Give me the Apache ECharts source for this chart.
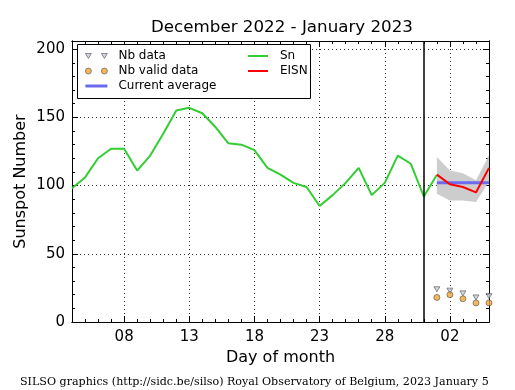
<!DOCTYPE html>
<html><head><meta charset="utf-8">
<script src="https://cdn.jsdelivr.net/npm/echarts@6/dist/echarts.min.js"></script>
<style>html,body{margin:0;padding:0;background:#fff}#c{width:515px;height:390px}</style>
</head><body><div id="c"></div>
<script>
// ---- data ----
const snDays   = [4,5,6,7,8,9,10,11,12,13,14,15,16,17,18,19,20,21,22,23,24,25,26,27,28,29,30,31,32];
const snValues = [98,106,120,127,127,111,122,138,155,157,153,143,131,130,126,113,108,102,99,85,93,102,113,93,102,122,116,92,108];
const eisnDays   = [32,33,34,35,36];
const eisnValues = [108,101,99,95,113];
const bandLow    = [94,89,89,88,103];
const bandHigh   = [121,111,109,104,122];
const avgDays    = [32,36];
const avgValue   = 102;
const nbData      = [24,23,21,18,19];
const nbValidData = [18,20,17,14,14];
const separatorDay = 31;
const xMin = 4, xMax = 36;
const yMin = 0, yMax = 206;
const xMajorTicks = [8,13,18,23,28,33];
const xTickLabels = ['08','13','18','23','28','02'];
const xMinorTicks = [4,5,6,7,8,9,10,11,12,13,14,15,16,17,18,19,20,21,22,23,24,25,26,27,28,29,30,31,32,33,34,35,36];
const yMajorTicks = [0,50,100,150,200];
const yMinorTicks = [10,20,30,40,50,60,70,80,90,100,110,120,130,140,150,160,170,180,190,200];
const titleText = 'December 2022 - January 2023';
const footerText = 'SILSO graphics (http://sidc.be/silso) Royal Observatory of Belgium, 2023 January 5';

const FONT = 'DejaVu Sans';
const pair = (xs, ys) => xs.map((x, i) => [x, ys[i]]);
const triStyle = {color: '#c4cadc', borderColor: '#555', borderWidth: 0.8};
const dotStyle = {color: '#f2a533', borderColor: '#555', borderWidth: 0.8};

function xAx(position, ticks, len, labels, split) {
  const a = {
    type: 'value', min: xMin, max: xMax, position,
    axisLine: {show: true, onZero: false, lineStyle: {color: '#000', width: 1}},
    axisTick: {show: true, inside: true, length: len, customValues: ticks, lineStyle: {color: '#000', width: 1}},
    axisLabel: {show: false},
    splitLine: {show: false}
  };
  if (labels) {
    a.axisLabel = {show: true, customValues: xMajorTicks, formatter: v => xTickLabels[xMajorTicks.indexOf(v)],
      fontSize: 15, fontFamily: FONT, color: '#000', margin: 8};
    a.name = 'Day of month'; a.nameLocation = 'middle'; a.nameGap = 28; a.nameMoveOverlap = false;
    a.nameTextStyle = {fontSize: 16, fontFamily: FONT, color: '#000'};
  }
  if (split) a.splitLine = {show: true, lineStyle: {color: '#333', type: [1, 3], width: 1}};
  return a;
}
function yAx(position, ticks, len, labels, split) {
  const a = {
    type: 'value', min: yMin, max: yMax, position,
    axisLine: {show: true, onZero: false, lineStyle: {color: '#000', width: 1}},
    axisTick: {show: true, inside: true, length: len, customValues: ticks, lineStyle: {color: '#000', width: 1}},
    axisLabel: {show: false},
    splitLine: {show: false}
  };
  if (labels) {
    a.axisLabel = {show: true, customValues: yMajorTicks, fontSize: 15, fontFamily: FONT, color: '#000', margin: 7};
    a.name = 'Sunspot Number'; a.nameLocation = 'middle'; a.nameGap = 43; a.nameMoveOverlap = false;
    a.nameTextStyle = {fontSize: 16, fontFamily: FONT, color: '#000'};
  }
  if (split) a.splitLine = {show: true, lineStyle: {color: '#333', type: [1, 3], width: 1}};
  return a;
}

const chart = echarts.init(document.getElementById('c'), null, {renderer: 'canvas'});
chart.setOption({
  animation: false,
  backgroundColor: '#fff',
  title: [
    {text: titleText, left: 151, top: 19, padding: 0,
     textStyle: {fontSize: 16.7, fontFamily: FONT, fontWeight: 'normal', color: '#000'}},
    {text: footerText, left: 20, top: 377, padding: 0,
     textStyle: {fontSize: 11.1, fontFamily: 'DejaVu Serif', fontWeight: 'normal', color: '#000'}}
  ],
  grid: {left: 72, right: 26, top: 41, bottom: 68, containLabel: false, outerBoundsMode: 'none'},
  xAxis: [
    xAx('bottom', xMajorTicks, 6, true, true),
    xAx('bottom', xMinorTicks, 3, false, false),
    xAx('top', xMajorTicks, 6, false, false),
    xAx('top', xMinorTicks, 3, false, false)
  ],
  yAxis: [
    yAx('left', yMajorTicks, 6, true, true),
    yAx('left', yMinorTicks, 3, false, false),
    yAx('right', yMajorTicks, 6, false, false),
    yAx('right', yMinorTicks, 3, false, false)
  ],
  graphic: [{type: 'rect', z: 10, shape: {x: 77.5, y: 44.5, width: 233, height: 54},
             style: {fill: '#fff', stroke: '#000', lineWidth: 1}}],
  legend: [
    {orient: 'vertical', left: 85, top: 49, padding: 0, itemGap: 1, itemWidth: 22, itemHeight: 7,
     selectedMode: false, z: 20,
     textStyle: {fontSize: 12, fontFamily: FONT, color: '#000', lineHeight: 14, padding: [0, 0, 0, 6]},
     data: [
       {name: 'Nb data', icon: 'path://M0,0L6,0L3,5ZM16,0L22,0L19,5Z', itemStyle: triStyle},
       {name: 'Nb valid data', icon: 'path://M0,3A3,3,0,1,1,6,3A3,3,0,1,1,0,3ZM16,3A3,3,0,1,1,22,3A3,3,0,1,1,16,3Z', itemStyle: dotStyle},
       {name: 'Current average', icon: 'path://M0,0L22,0L22,3L0,3Z', itemStyle: {color: '#6b6bf0', borderWidth: 0}}
     ]},
    {orient: 'vertical', left: 248, top: 49, padding: 0, itemGap: 1, itemWidth: 20, itemHeight: 7,
     selectedMode: false, z: 20,
     textStyle: {fontSize: 12, fontFamily: FONT, color: '#000', lineHeight: 14, padding: [0, 0, 0, 7]},
     data: [
       {name: 'Sn', icon: 'path://M0,0L20,0L20,2L0,2Z', itemStyle: {color: '#32cd32', borderWidth: 0}},
       {name: 'EISN', icon: 'path://M0,0L20,0L20,2L0,2Z', itemStyle: {color: '#ff0000', borderWidth: 0}}
     ]}
  ],
  series: [
    {name: 'EISN range', type: 'custom', silent: true, z: 1,
     data: eisnDays.map((d, i) => [d, bandLow[i], bandHigh[i]]),
     encode: {x: 0, y: [1, 2]},
     renderItem: (params, api) => {
       if (params.dataIndex !== 0) return null;
       const upper = eisnDays.map((d, i) => api.coord([d, bandHigh[i]]));
       const lower = eisnDays.map((d, i) => api.coord([d, bandLow[i]])).reverse();
       return {type: 'polygon', shape: {points: upper.concat(lower)}, style: {fill: '#cdcdcd'}};
     }},
    {name: 'Sn', type: 'line', data: pair(snDays, snValues), symbol: 'none', color: '#32cd32',
     lineStyle: {color: '#32cd32', width: 2}, z: 3,
     markLine: {silent: true, symbol: 'none', label: {show: false},
       lineStyle: {color: '#000', type: 'solid', width: 1.5}, data: [{xAxis: separatorDay}]}},
    {name: 'Current average', type: 'line', data: avgDays.map(d => [d, avgValue]), symbol: 'none',
     color: '#6b6bf0', lineStyle: {color: '#6b6bf0', width: 3}, z: 4},
    {name: 'EISN', type: 'line', data: pair(eisnDays, eisnValues), symbol: 'none', color: '#ff0000',
     lineStyle: {color: '#ff0000', width: 2}, z: 5},
    {name: 'Nb data', type: 'scatter', data: pair(eisnDays, nbData), symbol: 'triangle', symbolRotate: 180,
     symbolSize: [6, 5], itemStyle: triStyle, z: 6},
    {name: 'Nb valid data', type: 'scatter', data: pair(eisnDays, nbValidData), symbol: 'circle',
     symbolSize: 6, itemStyle: dotStyle, z: 6}
  ]
});
</script></body></html>
